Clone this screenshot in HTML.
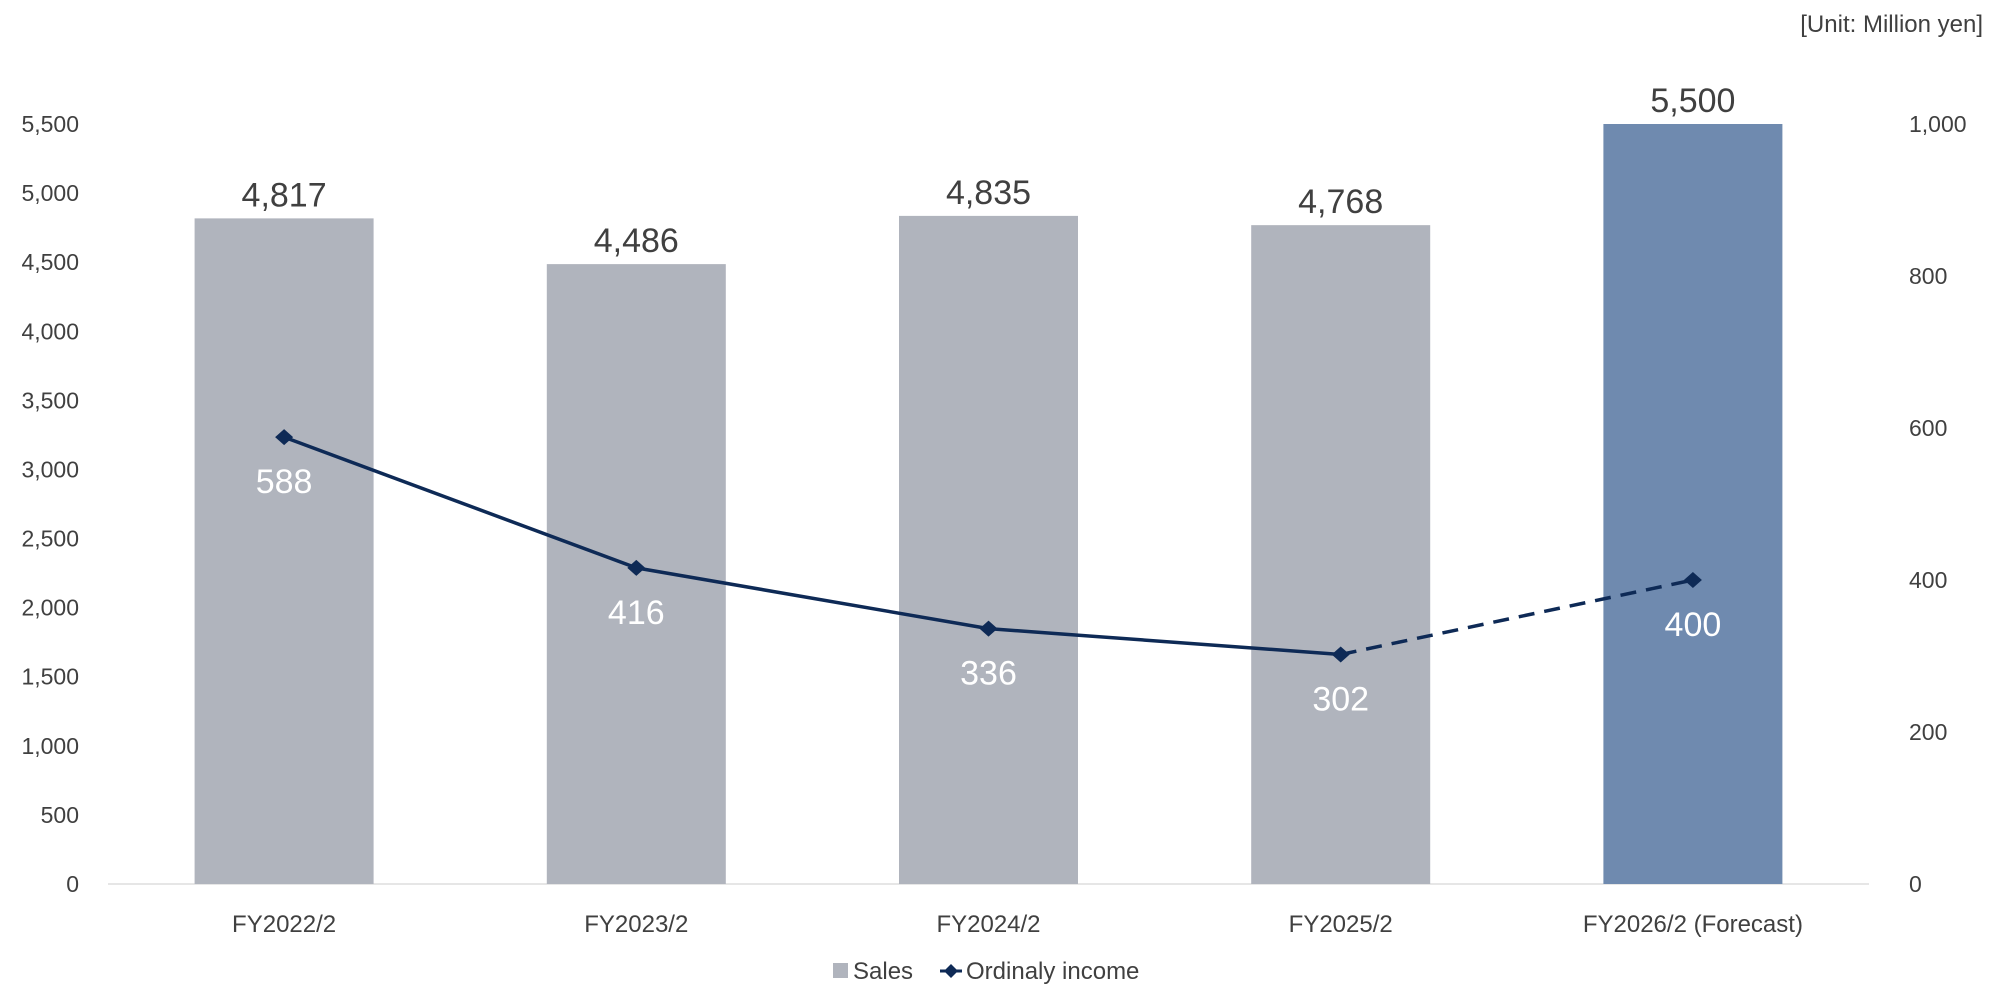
<!DOCTYPE html>
<html><head><meta charset="utf-8"><style>
body{margin:0;background:#fff;}
svg text{font-family:"Liberation Sans",sans-serif;}
</style></head><body>
<svg id="chart" width="2000" height="1000" viewBox="0 0 2000 1000">
<text x="1983" y="32" text-anchor="end" font-size="24" fill="#404040">[Unit: Million yen]</text>
<g id="grid"></g><g id="bars"></g><g id="line"></g><g id="labels"></g>
<g>
<rect x="833" y="963" width="15" height="15" fill="#b0b4bd"/>
<text x="853" y="979" font-size="24" fill="#404040">Sales</text>
<line x1="940" y1="971" x2="962" y2="971" stroke="#0e2a56" stroke-width="3"/>
<path d="M951 964 L958 971 L951 978 L944 971 Z" fill="#0e2a56"/>
<text x="966" y="979" font-size="24" fill="#404040">Ordinaly income</text>
</g>
</svg>
<script>
const categories=["FY2022/2","FY2023/2","FY2024/2","FY2025/2","FY2026/2 (Forecast)"];
const sales=[4817,4486,4835,4768,5500];
const income=[588,416,336,302,400];
const leftTicks=[0,500,1000,1500,2000,2500,3000,3500,4000,4500,5000,5500];
const rightTicks=[0,200,400,600,800,1000];
const NS="http://www.w3.org/2000/svg";
const base=884, yTop=124, x0=108, x1=1869;
const yL=v=>base-(v/5500)*(base-yTop);
const yR=v=>base-(v/1000)*(base-yTop);
const xC=i=>x0+(x1-x0)*(i+0.5)/categories.length;
function mk(t,a,p){const e=document.createElementNS(NS,t);for(const k in a)e.setAttribute(k,a[k]);document.getElementById(p).appendChild(e);return e;}
const fmt=v=>v.toLocaleString('en-US');
let ax=mk('line',{x1:x0,x2:x1,y1:base,y2:base,stroke:'#e6e6e6','stroke-width':2},'grid');


leftTicks.forEach(v=>{const t=mk('text',{x:79,y:yL(v)+8,'text-anchor':'end','font-size':23,fill:'#404040'},'grid');t.textContent=fmt(v);

});
rightTicks.forEach(v=>{const t=mk('text',{x:1909,y:yR(v)+8,'font-size':23,fill:'#404040'},'grid');t.textContent=fmt(v);

});
const bw=179;
categories.forEach((c,i)=>{
 const r=mk('rect',{x:xC(i)-bw/2,y:yL(sales[i]),width:bw,height:base-yL(sales[i]),fill:i==4?'#6f8aaf':'#b0b4bd'},'bars');
 
 
 const t=mk('text',{x:xC(i),y:yL(sales[i])-12,'text-anchor':'middle','font-size':34,fill:'#404040'},'labels');t.textContent=fmt(sales[i]);
 
 
 const ct=mk('text',{x:xC(i),y:932,'text-anchor':'middle','font-size':24,fill:'#404040'},'labels');ct.textContent=c;
 
 
});
for(let i=0;i<income.length-1;i++){
 const l=mk('line',{x1:xC(i),y1:yR(income[i]),x2:xC(i+1),y2:yR(income[i+1]),stroke:'#0e2a56','stroke-width':3.5},'line');
 if(i==income.length-2)l.setAttribute('stroke-dasharray','16 10');
 
 
}
income.forEach((v,i)=>{
 const x=xC(i),y=yR(v);
 const m=mk('path',{d:`M${x} ${y-8} L${x+9} ${y} L${x} ${y+8} L${x-9} ${y} Z`,fill:'#0e2a56'},'line');
 
 
 const t=mk('text',{x:x,y:y+56,'text-anchor':'middle','font-size':34,fill:'#ffffff'},'labels');t.textContent=fmt(v);
 
 
});
</script>
</body></html>
